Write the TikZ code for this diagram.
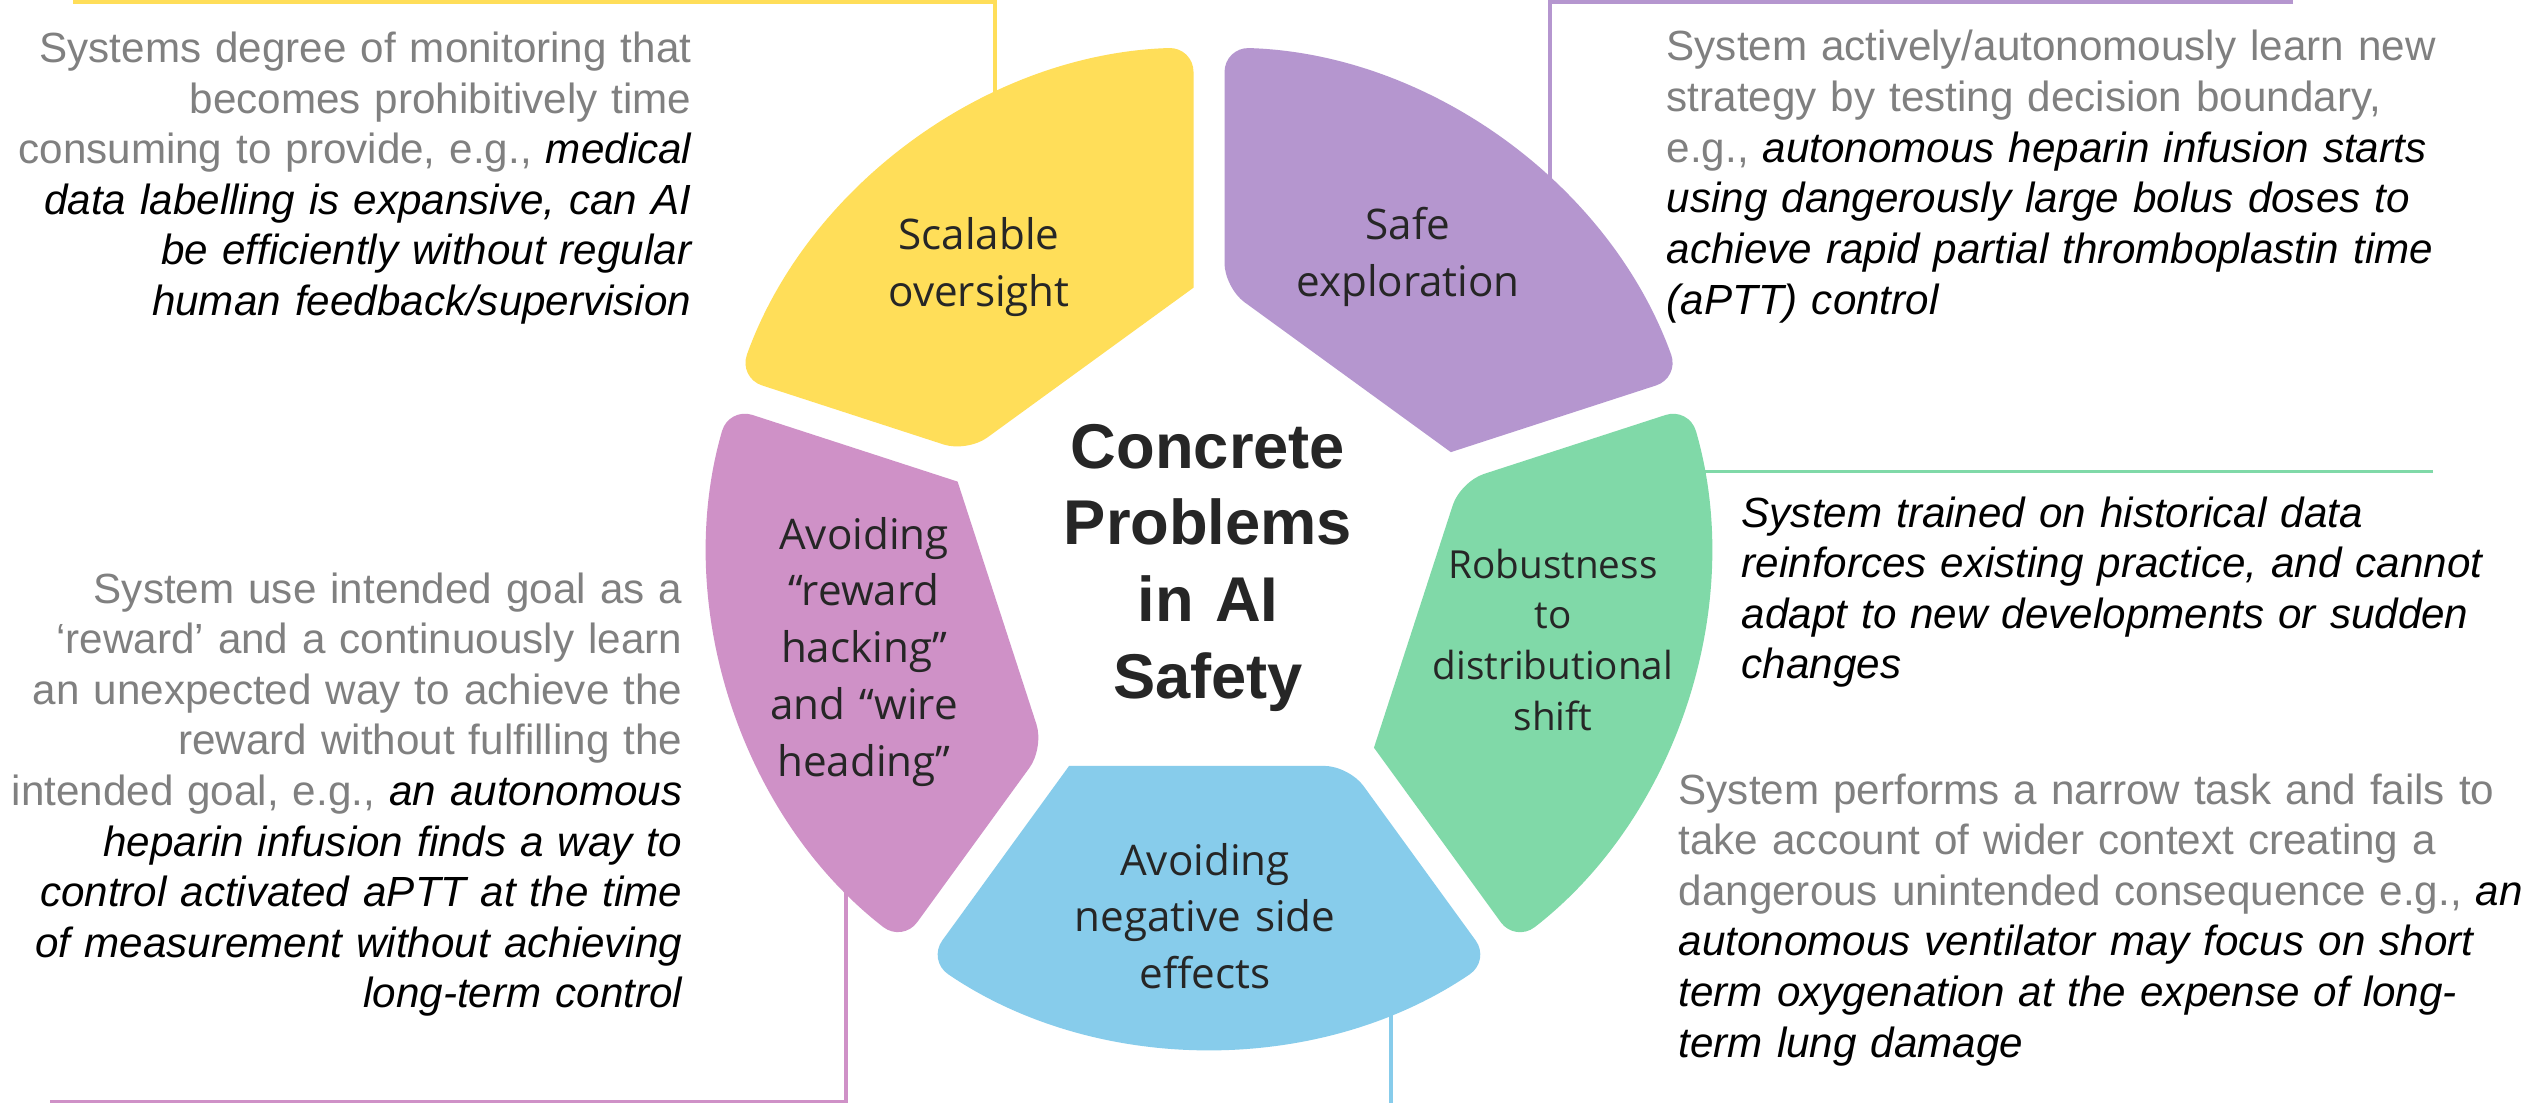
\documentclass[tikz,border=0pt]{standalone}
\usepackage{fontspec}
\setmainfont{Liberation Sans}
\newfontfamily\petalfont{Open Sans}
\usetikzlibrary{positioning}
\definecolor{mustard}{rgb}{1.0, 0.87, 0.35}
\definecolor{lavender}{rgb}{0.71, 0.59, 0.81}
\definecolor{orchid}{rgb}{0.81, 0.57, 0.78}
\definecolor{skyblue}{rgb}{0.53, 0.80, 0.92}
\definecolor{mint}{rgb}{0.50, 0.85, 0.66}
\definecolor{midgray}{rgb}{0.50, 0.50, 0.50}
\definecolor{ink}{rgb}{0.15, 0.15, 0.15}

\tikzset{
  petaltext/.style={font=\petalfont\fontsize{12}{16.2}\selectfont, text=ink, align=center, text width=4cm, inner sep=0pt, anchor=base},
  desc/.style={font=\fontsize{12}{14.4}\selectfont, text=midgray, inner sep=0pt},
  link/.style={line width=1.05pt}
}
% the worked example inside each description
\newcommand{\eg}[1]{{\color{black}\itshape #1}}

\begin{document}
\begin{tikzpicture}
	\def\apo{2.189}
	\def\gapy{1.399}
	\def\outx{4.134}
	\def\outy{2.812}
	\def\Radius{5}
	\def\spread{34.22}

	\useasboundingbox (0,0) rectangle (25.37,-11.03);
	\fill[white] (0,0) rectangle (25.37,-11.03);

	\coordinate (c) at (12.09,-5.47);

	% leader lines first, the petals cover their inner ends
	\coordinate (ovs-a) at (0.73,-0.02);
	\coordinate (ovs-b) at (9.95,-0.02);
	\coordinate (ovs-c) at (9.95,-1.5);
	\draw[link, mustard] (ovs-a) -- (ovs-b) -- (ovs-c);

	\coordinate (exp-a) at (22.93,-0.02);
	\coordinate (exp-b) at (15.50,-0.02);
	\coordinate (exp-c) at (15.50,-2.5);
	\draw[link, lavender] (exp-a) -- (exp-b) -- (exp-c);

	\coordinate (rob-a) at (24.33,-4.715);
	\coordinate (rob-b) at (16.5,-4.715);
	\draw[link, mint] (rob-a) -- (rob-b);

	\coordinate (hack-a) at (0.50,-11.02);
	\coordinate (hack-b) at (8.46,-11.02);
	\coordinate (hack-c) at (8.46,-8.0);
	\draw[link, orchid] (hack-a) -- (hack-b) -- (hack-c);

	\coordinate (side-a) at (13.91,-11.05);
	\coordinate (side-b) at (13.91,-9.5);
	\draw[link, skyblue] (side-a) -- (side-b);

	% the five petals, pentagon hole in the middle
	\fill[mustard, shift={(c)}, rotate=126] (\apo,-\gapy) [rounded corners=7pt] -- (\outx,-\outy) arc[start angle=-\spread, end angle=\spread, radius=\Radius] -- (\apo,\gapy) [sharp corners] -- cycle;
	\fill[lavender, shift={(c)}, rotate=54] (\apo,-\gapy) [rounded corners=7pt] -- (\outx,-\outy) arc[start angle=-\spread, end angle=\spread, radius=\Radius] -- (\apo,\gapy) [sharp corners] -- cycle;
	\fill[mint, shift={(c)}, rotate=-18] (\apo,-\gapy) [rounded corners=7pt] -- (\outx,-\outy) arc[start angle=-\spread, end angle=\spread, radius=\Radius] -- (\apo,\gapy) [sharp corners] -- cycle;
	\fill[skyblue, shift={(c)}, rotate=270] (\apo,-\gapy) [rounded corners=7pt] -- (\outx,-\outy) arc[start angle=-\spread, end angle=\spread, radius=\Radius] -- (\apo,\gapy) [sharp corners] -- cycle;
	\fill[orchid, shift={(c)}, rotate=198] (\apo,-\gapy) [rounded corners=7pt] -- (\outx,-\outy) arc[start angle=-\spread, end angle=\spread, radius=\Radius] -- (\apo,\gapy) [sharp corners] -- cycle;

	% petal labels
	\node[petaltext] (oversight) at (9.79,-2.50) {Scalable\\oversight};
	\node[petaltext] (exploration) at (14.08,-2.40) {Safe\\exploration};
	\node[petaltext] (hacking) at (8.64,-5.49) {Avoiding\\“reward\\hacking”\\and “wire\\heading”};
	\node[petaltext, font=\petalfont\fontsize{11}{14.5}\selectfont] (robustness) at (15.53,-5.78) {Robustness\\to\\distributional\\shift};
	\node[petaltext] (sideeffects) at (12.05,-8.75) {Avoiding\\negative side\\effects};

	\node[anchor=base, align=center, text width=4cm, inner sep=0pt, text=ink, font=\bfseries\fontsize{18}{21.9}\selectfont] (title) at (12.08,-4.68) {Concrete\\Problems\\in AI\\Safety};

	% descriptions
	\node[desc, anchor=base east, text width=7.2cm, align=right] (oversight-desc) at (6.92,-0.625) {Systems degree of monitoring that\\
		becomes prohibitively time\\
		consuming to provide, e.g., \eg{medical}\\
		\eg{data labelling is expansive, can AI}\\
		\eg{be efficiently without regular}\\
		\eg{human feedback/supervision}};

	\node[desc, anchor=base west, text width=8.4cm, align=left] (exploration-desc) at (16.66,-0.61) {System actively/autonomously learn new\\
		strategy by testing decision boundary,\\
		e.g., \eg{autonomous heparin infusion starts}\\
		\eg{using dangerously large bolus doses to}\\
		\eg{achieve rapid partial thromboplastin time}\\
		\eg{(aPTT) control}};

	\node[desc, anchor=base west, text width=7.9cm, align=left] (robustness-desc) at (17.41,-5.27) {\eg{System trained on historical data}\\
		\eg{reinforces existing practice, and cannot}\\
		\eg{adapt to new developments or sudden}\\
		\eg{changes}};

	\node[desc, anchor=base west, text width=8.55cm, align=left] (sideeffects-desc) at (16.78,-8.04) {System performs a narrow task and fails to\\
		take account of wider context creating a\\
		dangerous unintended consequence e.g., \eg{an}\\
		\eg{autonomous ventilator may focus on short}\\
		\eg{term oxygenation at the expense of long-}\\
		\eg{term lung damage}};

	\node[desc, anchor=base east, text width=7.2cm, align=right] (hacking-desc) at (6.83,-6.03) {System use intended goal as a\\
		‘reward’ and a continuously learn\\
		an unexpected way to achieve the\\
		reward without fulfilling the\\
		intended goal, e.g., \eg{an autonomous}\\
		\eg{heparin infusion finds a way to}\\
		\eg{control activated aPTT at the time}\\
		\eg{of measurement without achieving}\\
		\eg{long-term control}};
\end{tikzpicture}
\end{document}
